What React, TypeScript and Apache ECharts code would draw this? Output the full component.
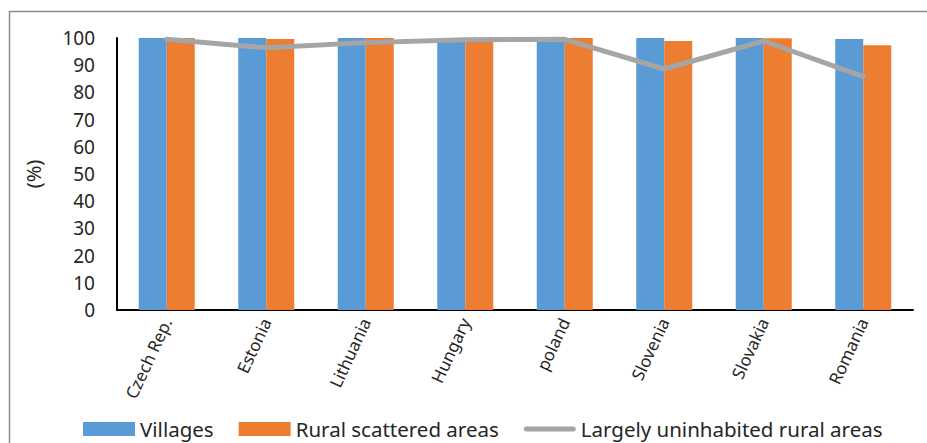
import React, { useEffect, useRef } from "react";
import * as echarts from "echarts";

const categories = ["Czech Rep.", "Estonia", "Lithuania", "Hungary", "poland", "Slovenia", "Slovakia", "Romania"];
const villages = [100, 100, 100, 99.5, 99.3, 100, 100, 99.6];
const ruralScattered = [100, 99.6, 100, 99.5, 100, 98.9, 99.9, 97.3];
const largelyUninhabited = [99.5, 96.4, 98.3, 99.4, 99.5, 88.6, 98.9, 85.8];

const FONT = "Noto Sans";
const TEXT = "#262626";
const LINE_ICON = "path://M2.5,0 L49.5,0 A2.5,2.5 0 0 1 49.5,5 L2.5,5 A2.5,2.5 0 0 1 2.5,0 Z";

export default function App() {
  const ref = useRef<HTMLDivElement>(null);

  useEffect(() => {
    if (!ref.current) return;
    const chart = echarts.init(ref.current, null, { renderer: "svg" });
    chart.setOption({
      animation: false,
      backgroundColor: "#ffffff",
      textStyle: { fontFamily: FONT, color: TEXT },
      grid: { left: 117, right: 14, top: 38, bottom: 133, containLabel: false },
      graphic: [
        {
          type: "rect",
          shape: { x: 9.5, y: 11.5, width: 940, height: 460 },
          style: { fill: "none", stroke: "#8c8c8c", lineWidth: 1.5 },
          silent: true,
        },
      ],
      legend: {
        left: 83,
        top: 418,
        padding: 0,
        itemWidth: 52,
        itemHeight: 14,
        itemGap: 25,
        textStyle: { fontFamily: FONT, fontSize: 20.5, lineHeight: 22, color: TEXT },
        data: [
          { name: "Villages", icon: "rect" },
          { name: "Rural scattered areas", icon: "rect" },
          { name: "Largely uninhabited rural areas", icon: LINE_ICON, itemStyle: { color: "#a5a5a5" } },
        ],
      },
      xAxis: {
        type: "category",
        data: categories,
        axisLine: { show: true, lineStyle: { color: "#000000", width: 2 } },
        axisTick: { show: false },
        axisLabel: {
          rotate: 65,
          interval: 0,
          margin: 9,
          fontFamily: FONT,
          fontSize: 17,
          color: TEXT,
        },
      },
      yAxis: {
        type: "value",
        min: 0,
        max: 100,
        interval: 10,
        name: "(%)",
        nameLocation: "middle",
        nameGap: 74,
        nameRotate: 90,
        nameTextStyle: { fontFamily: FONT, fontSize: 20, color: TEXT },
        axisLine: { show: true, lineStyle: { color: "#000000", width: 2 } },
        axisTick: { show: false },
        splitLine: { show: false },
        axisLabel: { margin: 22, fontFamily: FONT, fontSize: 19, color: TEXT },
      },
      series: [
        {
          name: "Villages",
          type: "bar",
          data: villages,
          barWidth: 28,
          barGap: "0%",
          itemStyle: { color: "#5b9bd5" },
        },
        {
          name: "Rural scattered areas",
          type: "bar",
          data: ruralScattered,
          barWidth: 28,
          barGap: "0%",
          itemStyle: { color: "#ed7d31" },
        },
        {
          name: "Largely uninhabited rural areas",
          type: "line",
          data: largelyUninhabited,
          symbol: "none",
          lineStyle: { color: "#a5a5a5", width: 5, cap: "round", join: "round" },
          itemStyle: { color: "#a5a5a5" },
        },
      ],
    });
    return () => chart.dispose();
  }, []);

  return (
    <div
      ref={ref}
      style={{ position: "fixed", left: 0, top: 0, width: 927, height: 443 }}
    />
  );
}
